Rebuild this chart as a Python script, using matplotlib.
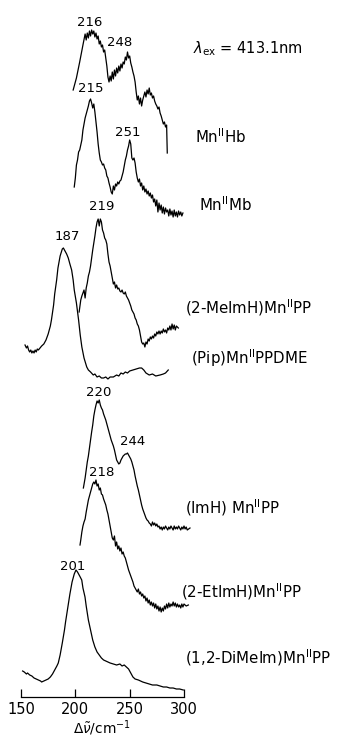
import numpy as np
import matplotlib
matplotlib.use("Agg")
import matplotlib.pyplot as plt

W, H = 337, 737

# Raman shift (cm-1) and trace height (figure pixels from top)
nu_hb = [198, 201, 204, 207, 209, 210, 211, 212, 213, 214, 215, 216, 217, 218, 219, 220, 221, 222, 223, 224,
         225, 226, 227, 228, 229, 230, 231, 232, 233, 234, 235, 236, 237, 238, 239, 240, 241, 242, 243, 244,
         245, 246, 247, 248, 249, 250, 251, 252, 253, 254, 255, 256, 257, 258, 259, 260, 261, 262, 263, 264,
         265, 266, 267, 268, 269, 270, 271, 272, 273, 274, 275, 276, 277, 278, 279, 280, 281, 282, 283, 284, 284.6]
y_hb = [90, 78, 62, 45, 34, 40, 33, 38, 31, 36, 30, 34, 31, 37, 33, 39, 36, 44, 41, 47,
        45, 52, 50, 58, 66, 77, 82, 76, 81, 72, 79, 70, 76, 68, 73, 66, 71, 64, 68, 62,
        64, 57, 60, 52, 58, 56, 63, 67, 72, 76, 82, 92, 100, 96, 104, 98, 106, 100, 96, 92,
        97, 90, 94, 88, 95, 93, 98, 96, 101, 104, 106, 109, 107, 113, 116, 120, 124, 122, 127, 125, 153]

nu_mb = list(range(199, 300))
y_mb = [187, 178, 165, 160, 152, 150, 145, 140, 130, 124, 118, 114, 110, 106, 101, 99, 103, 108, 104, 112,
        122, 132, 144, 153, 160, 162, 165, 164, 168, 170, 176, 178, 183, 187, 192, 194, 186, 190, 184, 186,
        182, 184, 181, 180, 176, 172, 166, 160, 156, 150, 146, 140, 144, 158, 160, 158, 163, 172, 178, 182,
        179, 186, 183, 190, 186, 192, 189, 194, 191, 196, 193, 198, 195, 202, 199, 206, 200, 212, 203, 210,
        205, 213, 207, 214, 208, 212, 210, 216, 209, 215, 211, 217, 210, 216, 212, 217, 211, 215, 212, 216, 213]

nu_meim = [203.5] + list(range(205, 294)) + [294.8]
y_meim = [312, 300, 296, 293, 290, 298, 288, 283, 276, 272, 266, 258, 250, 243, 236, 228, 222, 219, 226, 219,
          222, 230, 233, 238, 240, 244, 254, 262, 266, 272, 278, 284, 282, 288, 285, 289, 288, 291, 292, 290,
          293, 294, 292, 296, 298, 300, 303, 306, 310, 312, 314, 318, 320, 324, 326, 330, 336, 342, 344, 343,
          347, 342, 344, 339, 341, 337, 339, 336, 338, 334, 336, 332, 334, 331, 334, 331, 333, 329, 332, 330,
          333, 328, 330, 326, 330, 324, 329, 325, 330, 326, 328]

nu_pip = [153.7, 155, 156, 157, 158, 159, 160, 161, 162, 163, 164, 165, 166, 167.5, 169, 171, 173, 175, 177, 178,
          180, 181, 182.8, 184, 186, 188, 189, 190, 191, 192, 193.5, 195, 196.6, 198, 199, 201, 203, 204.5, 206, 208,
          210.5, 212, 214, 216.5, 218, 220, 222, 224, 226, 228, 230, 232, 235, 238, 240, 242, 244, 246, 248, 250,
          253, 256, 259, 261, 263, 265, 268, 271, 274, 278, 281, 283, 285.5]
y_pip = [345, 348, 346, 350, 352, 350, 353, 351, 353, 350, 352, 349, 350, 348, 346, 344, 340, 334, 326, 320,
         305, 294, 280, 268, 256, 249, 248, 250, 252, 254, 258, 264, 270, 280, 290, 303, 320, 335, 347, 358,
         367, 370, 372, 375, 374, 377, 376, 378, 378, 377, 379, 377, 377, 375, 376, 373, 374, 372, 373, 371,
         370, 369, 368, 368, 370, 373, 375, 374, 376, 375, 374, 373, 370]

nu_imh = [207.4] + list(range(209, 304)) + [305.5]
y_imh = [488, 478, 470, 462, 456, 448, 440, 432, 425, 416, 410, 405, 401, 403, 400, 405, 408, 410, 414, 417,
         420, 424, 428, 432, 436, 440, 443, 446, 450, 455, 460, 462, 464, 463, 460, 458, 456, 455, 454, 454,
         453, 455, 457, 459, 462, 466, 470, 476, 481, 486, 490, 495, 500, 505, 509, 512, 515, 518, 520, 521,
         523, 524, 526, 522, 525, 523, 526, 524, 527, 526, 529, 527, 530, 527, 529, 526, 528, 530, 527, 529,
         526, 528, 530, 526, 529, 527, 529, 526, 528, 530, 527, 529, 526, 529, 527, 530, 528]

nu_etim = [204.3] + list(range(205, 301)) + [302, 304]
y_etim = [545, 540, 532, 526, 522, 519, 512, 506, 500, 496, 492, 488, 484, 482, 484, 480, 486, 484, 490, 488,
          494, 495, 499, 502, 505, 510, 514, 520, 526, 532, 538, 540, 536, 546, 542, 549, 546, 551, 548, 554,
          552, 556, 558, 562, 566, 570, 573, 576, 579, 582, 586, 588, 590, 592, 589, 594, 592, 596, 594, 598,
          596, 601, 598, 603, 600, 605, 602, 606, 603, 608, 604, 609, 606, 611, 607, 612, 608, 611, 606, 609,
          604, 608, 603, 607, 604, 606, 602, 606, 603, 607, 604, 607, 605, 608, 604, 607, 604, 606, 605]

nu_dime = [151.5, 153, 155, 156, 158, 160, 162, 164, 166, 168, 169, 171, 173, 175, 177, 179, 181, 183, 184.3, 186,
           188, 190, 191, 193, 195, 197, 199, 200.6, 202, 204, 205.9, 207, 208.9, 210, 212, 214, 216, 218, 220, 222,
           224, 226, 228, 230, 232, 235, 238, 241, 243, 245, 247, 249, 251, 253, 255, 258, 262, 265, 268, 271,
           275, 278, 281, 284, 287, 290, 293, 296, 299.3]
y_dime = [671, 672, 674, 673, 675, 676, 678, 679, 680, 681, 682, 681, 680, 679, 677, 674, 670, 666, 663, 655,
          643, 630, 622, 608, 594, 582, 574, 570, 572, 576, 580, 588, 597, 606, 620, 630, 640, 647, 652, 655,
          658, 660, 661, 662, 663, 664, 665, 664, 666, 665, 667, 669, 673, 677, 679, 680, 682, 683, 684, 685,
          685, 686, 687, 687, 688, 688, 689, 689, 690]

spectra = [(nu_hb, y_hb), (nu_mb, y_mb), (nu_meim, y_meim), (nu_pip, y_pip),
           (nu_imh, y_imh), (nu_etim, y_etim), (nu_dime, y_dime)]

names = ["Mn$^{\\mathrm{II}}$Hb", "Mn$^{\\mathrm{II}}$Mb", "(2-MeImH)Mn$^{\\mathrm{II}}$PP",
         "(Pip)Mn$^{\\mathrm{II}}$PPDME", "(ImH) Mn$^{\\mathrm{II}}$PP", "(2-EtImH)Mn$^{\\mathrm{II}}$PP",
         "(1,2-DiMeIm)Mn$^{\\mathrm{II}}$PP"]
name_pos = [(195, 137), (199, 205), (185, 308), (191, 358), (185, 508), (181, 592), (185, 658)]

peaks = ["216", "248", "215", "251", "219", "187", "220", "244", "218", "201"]
peak_pos = [(90, 23), (120, 42), (91, 89), (128, 132), (102, 206), (67, 237),
            (99, 393), (133, 441), (102, 473), (73, 567)]

ticks = [150, 200, 250, 300]

# pixel -> wavenumber mapping of the scan (150 at x=21 px, 300 at x=184 px)
x0_px, x1_px = 21, 184
scale = (x1_px - x0_px) / (ticks[-1] - ticks[0])
xlim = (ticks[0] - x0_px / scale, ticks[-1] + (W - x1_px) / scale)
axis_y = 697

fig = plt.figure(figsize=(W / 100, H / 100), dpi=100)
ax = fig.add_axes([0, 0, 1, 1])
ax.set_xlim(*xlim)
ax.set_ylim(H, 0)

for nu, y in spectra:
    ax.plot(nu, y, color="black", lw=0.9)

for s, (x, y) in zip(names, name_pos):
    fig.text(x / W, 1 - y / H, s, fontsize=10.8, ha="left", va="center")

for s, (x, y) in zip(peaks, peak_pos):
    fig.text(x / W, 1 - y / H, s, fontsize=9.5, ha="center", va="center")

fig.text(193 / W, 1 - 49 / H, "$\\lambda_{\\mathrm{ex}}$ = 413.1nm", fontsize=10.5, ha="left", va="center")

# bottom axis
for side in ["left", "right", "top"]:
    ax.spines[side].set_visible(False)
ax.spines["bottom"].set_position(("data", axis_y))
ax.spines["bottom"].set_bounds(ticks[0], ticks[-1])
ax.spines["bottom"].set_linewidth(0.9)
ax.set_yticks([])
ax.set_xticks(ticks)
ax.tick_params(axis="x", direction="in", length=6, width=0.9, pad=3.5, labelsize=10.5)
fig.text(102 / W, 1 - 728 / H, "$\\Delta\\tilde{\\nu}$/cm$^{-1}$", fontsize=9.8, ha="center", va="center")

fig.savefig("out.png", dpi=100)
